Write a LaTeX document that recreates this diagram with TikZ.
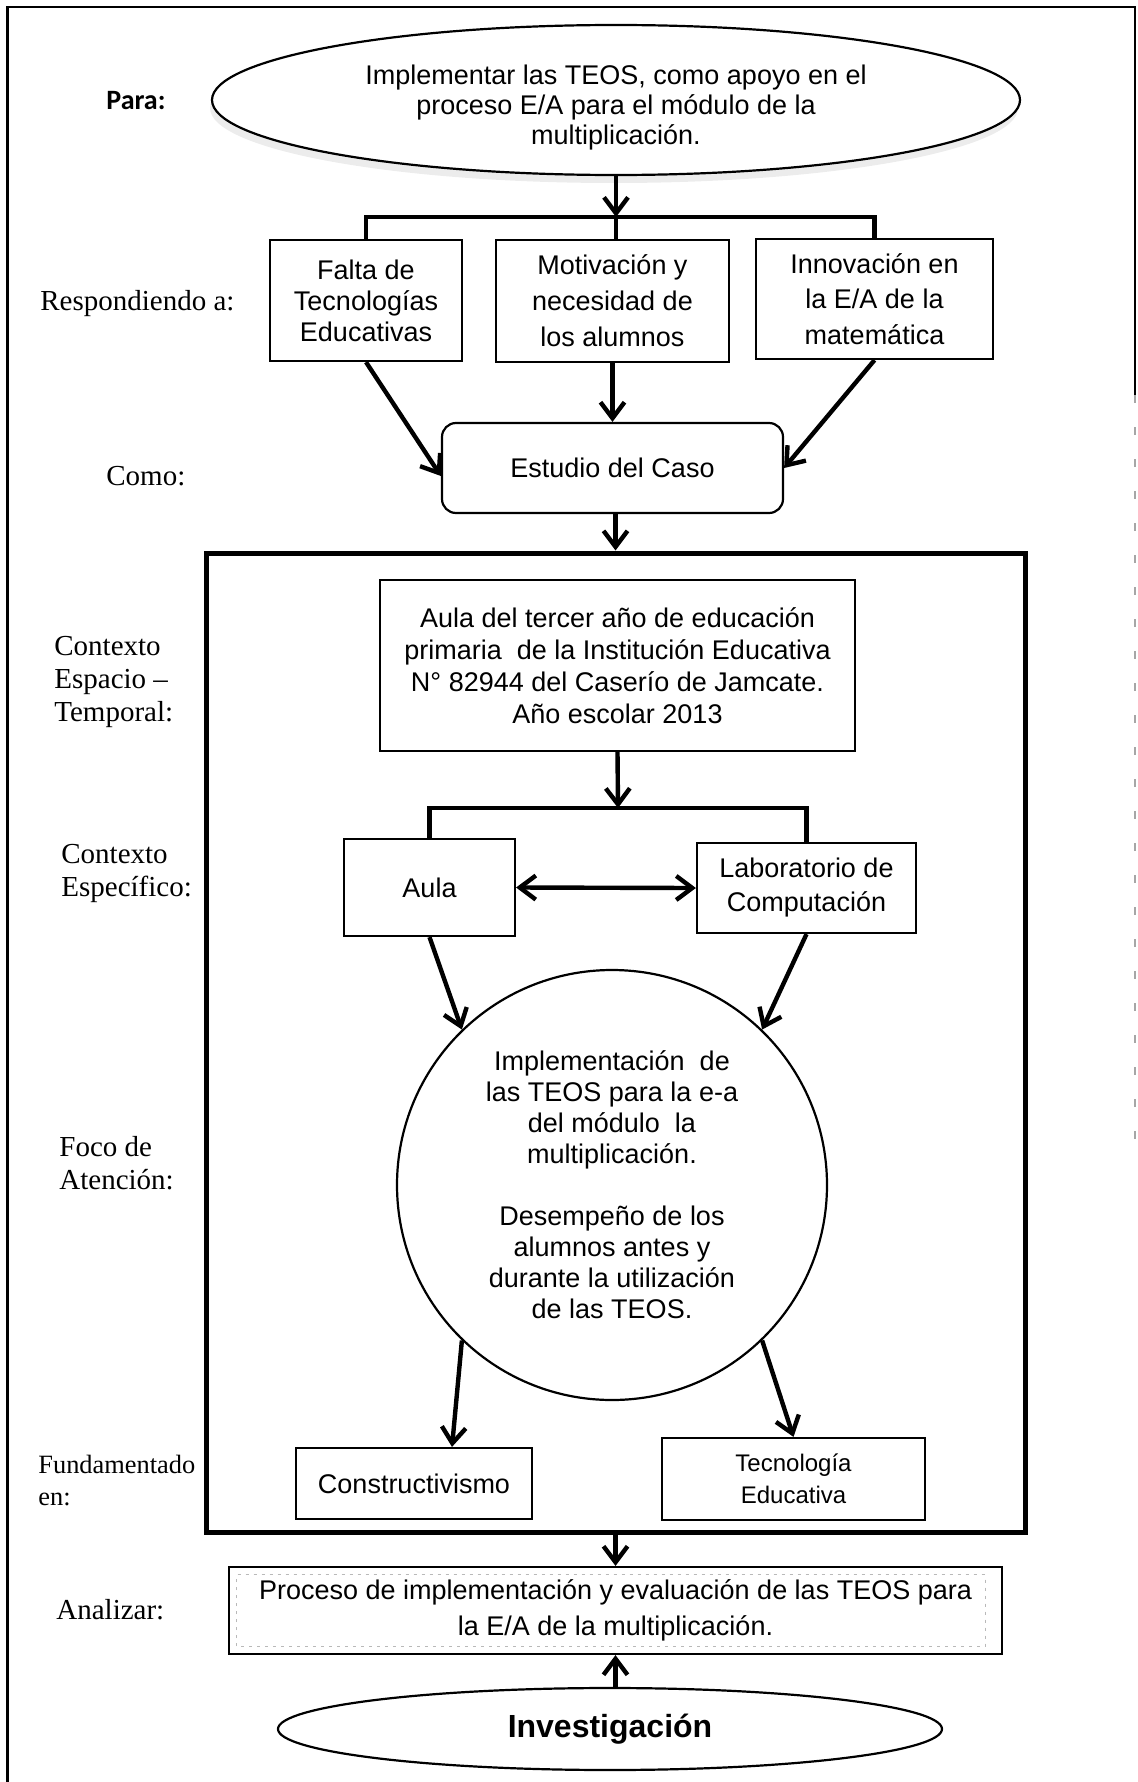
\documentclass[tikz,border=0pt]{standalone}
\usepackage{fontspec}
\setmainfont{Liberation Sans}
\newfontfamily\serifface[Ligatures=TeX]{Liberation Serif}
\newfontfamily\carl{Carlito}
\usetikzlibrary{arrows.meta,shapes.geometric,shadows,calc}
\begin{document}
\begin{tikzpicture}[x=0.5pt,y=-0.5pt,
  box/.style={draw, line width=1.1pt, fill=white, align=center, inner sep=0pt,
    font=\fontsize{13.5}{16}\selectfont},
  arr/.style={line width=2.2pt, -{Straight Barb[length=8pt,width=12pt]}},
  dbl/.style={line width=2.2pt, {Straight Barb[length=8pt,width=12pt]}-{Straight Barb[length=8pt,width=12pt]}},
  brk/.style={line width=2.3pt},
  lbl/.style={anchor=west, align=left, inner sep=0pt,
    font=\serifface\fontsize{14.5}{16.5}\selectfont},
]
\useasboundingbox (0,0) rectangle (1138,1782);
% page border
\draw[line width=1.1pt] (1135,395) -- (1135,7) -- (7.5,7) -- (7.5,1782);
\draw[line width=0.9pt, gray!70, dash pattern=on 4pt off 12pt] (1135,395) -- (1135,1160);

% labels
\node[lbl, font=\carl\bfseries\fontsize{14}{16}\selectfont] (lPara) at (106,101) {Para:};
\node[lbl] (lResp) at (40,304) {Respondiendo a:};
\node[lbl] (lComo) at (106,476) {Como:};
\node[lbl] (lCtx) at (54,681.5) {Contexto\\Espacio –\\Temporal:};
\node[lbl] (lEsp) at (61,873) {Contexto\\Específico:};
\node[lbl] (lFoco) at (59,1163) {Foco de\\Atención:};
\node[lbl, font=\serifface\fontsize{13.2}{16}\selectfont] (lFund) at (38,1481) {Fundamentado\\en:};
\node[lbl] (lAnal) at (56,1610) {Analizar:};

% top ellipse
\node[ellipse, draw, line width=1.1pt, fill=white, inner sep=0pt,
  minimum width=404pt, minimum height=75pt,
  drop shadow={shadow xshift=-1pt, shadow yshift=-4pt, fill=gray!30}] (ellTop) at (616,100) {};
\node[align=center, inner sep=0pt, font=\fontsize{13.5}{15}\selectfont] (ellTopTxt) at (616,108)
  {Implementar las TEOS, como apoyo en el\\proceso E/A para el módulo de la\\multiplicación.};

% three boxes
\node[box, minimum width=96pt, minimum height=60.5pt, font=\fontsize{13.5}{15.5}\selectfont] (b1) at (366,300.5)
  {Falta de\\Tecnologías\\Educativas};
\node[box, minimum width=116.5pt, minimum height=61pt, font=\fontsize{13.5}{18}\selectfont] (b2) at (612.5,301)
  {Motivación y\\necesidad de\\los alumnos};
\node[box, minimum width=118.5pt, minimum height=60pt, font=\fontsize{13.5}{17.75}\selectfont] (b3) at (874.5,299)
  {Innovación en\\la E/A de la\\matemática};
\coordinate (br1) at (616,217);
\draw[arr] (ellTop.south) -- (br1);
\draw[brk] (b1.north) |- (br1) -| (b3.north);
\draw[brk] (br1) -- (br1 |- b2.north);

% estudio
\node[box, rounded corners=7pt, minimum width=170.5pt, minimum height=45pt] (est) at (612.5,468)
  {Estudio del Caso};
\draw[arr] (b1.south) -- ([yshift=-4pt]est.west);
\draw[arr] (b2.south) -- (est.north);
\draw[arr] (b3.south) -- (est.east);

% frame
\node[draw, line width=2.5pt, minimum width=409.5pt, minimum height=489.5pt, inner sep=0pt] (frame) at (615.5,1042.5) {};
\draw[arr] (frame.north |- est.south) -- (frame.north);

% context box
\node[box, minimum width=237.5pt, minimum height=85.5pt] (ctx) at (617.5,665.5)
  {Aula del tercer año de educación\\primaria\ \ de la Institución Educativa\\N° 82944 del Caserío de Jamcate.\\Año escolar 2013};
\coordinate (br2) at (618,808);
\draw[arr] (ctx.south) -- (br2);

\node[box, minimum width=85.5pt, minimum height=48.5pt] (aula) at (429.5,887.5) {Aula};
\node[box, minimum width=109.5pt, minimum height=45pt, font=\fontsize{13.5}{17}\selectfont] (lab) at (806.5,888)
  {Laboratorio de\\Computación};
\draw[brk] (aula.north) |- (br2) -| (lab.north);
\draw[dbl] (aula.east) -- (lab.west);

% circle
\node[circle, draw, line width=1.1pt, fill=white, minimum size=215pt, inner sep=0pt, align=center,
  font=\fontsize{13.5}{15.5}\selectfont] (circ) at (612,1185)
  {Implementación\ \ de\\las TEOS para la e-a\\del módulo\ \ la\\multiplicación.\\[15.5pt]Desempeño de los\\alumnos antes y\\durante la utilización\\de las TEOS.};
\draw[arr] (aula.south) -- (circ.134);
\draw[arr] (lab.south) -- (circ.46);

% foundations
\node[box, minimum width=118pt, minimum height=35.5pt] (cons) at (414,1483.5) {Constructivismo};
\node[box, minimum width=131.5pt, minimum height=41pt, font=\fontsize{12}{16}\selectfont] (tec) at (793.5,1479)
  {Tecnología\\Educativa};
\draw[arr] (circ.226) -- ([xshift=19pt]cons.north);
\draw[arr] (circ.314.5) -- (tec.north);

% analizar
\node[box, minimum width=386.5pt, minimum height=43.5pt, font=\fontsize{13.5}{18}\selectfont] (anal) at (615.5,1610.5)
  {Proceso de implementación y evaluación de las TEOS para\\la E/A de la multiplicación.};
\draw[gray!55, line width=0.5pt, dash pattern=on 1.5pt off 2.5pt]
  ($(anal.south west)+(9,-9)$) rectangle ($(anal.north east)+(-18,9)$);
\draw[arr] (frame.south) -- (frame.south |- anal.north);

% investigacion
\node[ellipse, draw, line width=1.1pt, fill=white, inner sep=0pt,
  minimum width=332pt, minimum height=41pt,
  font=\bfseries\fontsize{16}{18}\selectfont] (inv) at (610,1729) {Investigación};
\draw[arr] (anal.south |- inv.north) -- (anal.south);
\end{tikzpicture}
\end{document}
